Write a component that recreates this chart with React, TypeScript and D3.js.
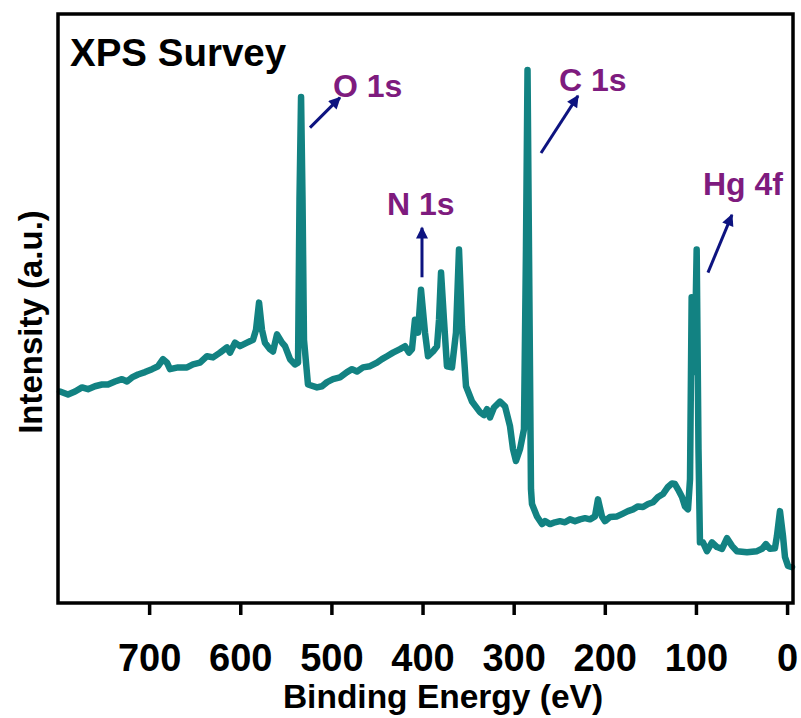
import React, { useEffect, useRef } from 'react';
import * as d3 from 'd3';

// binding energy (eV)
const energy = [
  797.8, 789.0, 781.3, 773.6, 767.1, 759.4, 751.7, 745.1, 737.4, 729.8, 724.3, 718.8, 712.2, 704.5,
  696.8, 690.2, 684.8, 680.4, 677.1, 668.3, 658.4, 651.9, 644.2, 636.5, 629.9, 622.2, 614.6, 611.3,
  605.8, 600.3, 592.6, 586.0, 582.7, 579.4, 576.2, 572.9, 567.4, 564.1, 559.7, 554.2, 550.9, 545.4,
  539.9, 536.6, 535.0, 533.3, 531.7, 530.1, 525.7, 515.8, 510.3, 504.8, 498.2, 490.6, 482.9, 477.4,
  471.9, 465.3, 457.6, 450.0, 444.5, 439.0, 432.4, 424.7, 419.2, 414.9, 411.6, 408.3, 405.0, 401.7,
  397.3, 394.0, 388.5, 384.1, 381.9, 379.7, 376.5, 373.2, 367.7, 363.3, 360.0, 356.7, 352.3, 345.7,
  337.0, 332.6, 329.3, 326.0, 321.6, 315.0, 309.5, 304.0, 300.7, 297.5, 293.1, 288.7, 286.5, 284.8,
  283.2, 281.0, 279.9, 274.4, 268.9, 265.6, 260.1, 254.7, 249.2, 243.7, 238.2, 232.7, 227.2, 221.7,
  216.3, 210.8, 207.5, 203.1, 199.8, 194.3, 186.6, 181.2, 174.6, 169.1, 163.6, 158.1, 152.6, 147.1,
  141.6, 136.2, 130.7, 126.3, 123.0, 119.7, 115.3, 112.0, 108.7, 106.5, 104.7, 101.6, 99.2, 97.2,
  95.6, 92.3, 87.9, 82.4, 76.9, 71.4, 65.9, 60.5, 55.0, 44.0, 33.0, 27.5, 23.2, 18.8, 13.3, 11.1,
  7.8, 4.5, 2.3, -1.0, -5.4,
];

// intensity (a.u.)
const intensity = [
  35.9, 35.4, 35.9, 36.6, 36.3, 36.8, 37.1, 37.1, 37.6, 38.0, 37.6, 38.3, 38.8, 39.2,
  39.7, 40.2, 41.4, 40.8, 39.7, 40.0, 40.0, 40.5, 40.8, 41.9, 41.7, 42.5, 43.4, 42.5,
  44.2, 43.6, 44.2, 44.7, 46.4, 51.0, 46.4, 44.2, 43.1, 42.7, 45.6, 44.2, 43.6, 41.4,
  40.5, 40.8, 68.5, 85.9, 68.5, 44.7, 37.1, 36.6, 36.8, 37.5, 38.0, 38.3, 39.2, 39.7,
  39.3, 40.0, 40.2, 40.8, 41.4, 41.9, 42.5, 43.1, 43.6, 42.5, 43.1, 48.1, 45.9, 53.2,
  45.9, 41.9, 42.7, 43.6, 48.1, 56.1, 48.1, 40.2, 40.0, 45.9, 60.0, 46.9, 36.8, 34.2,
  32.4, 31.9, 32.9, 31.5, 33.2, 34.2, 33.4, 30.0, 26.1, 24.1, 26.1, 29.5, 60.0, 90.5,
  60.0, 19.3, 16.8, 14.7, 13.4, 13.9, 13.4, 13.7, 13.9, 13.7, 14.2, 13.9, 14.2, 14.4,
  14.2, 14.7, 17.6, 14.7, 13.9, 14.6, 14.7, 15.1, 15.6, 15.9, 16.4, 16.3, 16.8, 17.1,
  18.0, 18.5, 19.7, 20.3, 20.2, 19.3, 18.0, 16.4, 15.9, 21.0, 51.9, 39.2, 60.0, 26.1,
  10.3, 10.3, 8.8, 10.3, 9.5, 9.2, 11.0, 9.7, 8.8, 8.6, 8.8, 9.2, 10.0, 9.2, 9.3, 11.4,
  15.6, 11.4, 7.8, 6.3, 6.1,
];

const xTicks = [700, 600, 500, 400, 300, 200, 100, 0];

// peak labels: text anchor and arrow tail -> head, in data units
const peakNames = ['O 1s', 'C 1s', 'N 1s', 'Hg 4f'];
const labelAt = [[498.2, 85.9], [250.3, 86.9], [439.0, 65.9], [92.3, 69.3]];
const arrowFrom = [[523.5, 80.7], [270.0, 76.4], [400.6, 55.3], [86.8, 56.1]];
const arrowTo = [[490.6, 85.8], [229.4, 86.1], [400.6, 63.7], [60.5, 65.9]];

const W = 801, H = 718;
const margin = { left: 58, right: 8, top: 14, bottom: 115 };

const App = () => {
  const ref = useRef<SVGSVGElement>(null);

  const draw = () => {
    const svg = d3.select(ref.current);
    svg.selectAll('*').remove();

    const font = '"Liberation Sans", Arial, sans-serif';
    const x = d3.scaleLinear().domain([800, -6.5]).range([margin.left, W - margin.right]);
    const y = d3.scaleLinear().domain([0, 100]).range([H - margin.bottom, margin.top]);

    const defs = svg.append('defs');
    defs
      .append('marker')
      .attr('id', 'head')
      .attr('viewBox', '0 0 10 10')
      .attr('refX', 9)
      .attr('refY', 5)
      .attr('markerWidth', 4.5)
      .attr('markerHeight', 4)
      .attr('markerUnits', 'strokeWidth')
      .attr('orient', 'auto')
      .append('path')
      .attr('d', 'M0,0L10,5L0,10Z')
      .attr('fill', '#0d1380');

    const pts = energy.map((e, i) => [e, intensity[i]]);

    svg
      .append('path')
      .datum(pts)
      .attr('fill', 'none')
      .attr('stroke', '#128282')
      .attr('stroke-width', 6.5)
      .attr('stroke-linejoin', 'round')
      .attr('stroke-linecap', 'round')
      .attr(
        'd',
        d3
          .line()
          .x((d) => x(d[0]))
          .y((d) => y(d[1]))
      );

    // frame
    svg
      .append('rect')
      .attr('x', margin.left)
      .attr('y', margin.top)
      .attr('width', W - margin.left - margin.right)
      .attr('height', H - margin.top - margin.bottom)
      .attr('fill', 'none')
      .attr('stroke', '#000')
      .attr('stroke-width', 3.5);

    const xAxis = svg
      .append('g')
      .attr('transform', `translate(0,${H - margin.bottom})`)
      .call(d3.axisBottom(x).tickValues(xTicks).tickSize(12).tickPadding(29).tickFormat(d3.format('d')));
    xAxis.select('.domain').remove();
    xAxis.selectAll('line').attr('stroke', '#000').attr('stroke-width', 3.5);
    xAxis
      .selectAll('text')
      .attr('fill', '#000')
      .style('font-family', font)
      .style('font-weight', 'bold')
      .style('font-size', '38px');

    svg
      .append('text')
      .attr('x', 443)
      .attr('y', 708)
      .attr('text-anchor', 'middle')
      .style('font-family', font)
      .style('font-weight', 'bold')
      .style('font-size', '33.5px')
      .text('Binding Energy (eV)');

    svg
      .append('text')
      .attr('transform', 'translate(42,322) rotate(-90)')
      .attr('text-anchor', 'middle')
      .style('font-family', font)
      .style('font-weight', 'bold')
      .style('font-size', '33px')
      .text('Intensity (a.u.)');

    svg
      .append('text')
      .attr('x', 70)
      .attr('y', 66)
      .style('font-family', font)
      .style('font-weight', 'bold')
      .style('font-size', '38.5px')
      .text('XPS Survey');

    peakNames.forEach((name, i) => {
      svg
        .append('line')
        .attr('x1', x(arrowFrom[i][0]))
        .attr('y1', y(arrowFrom[i][1]))
        .attr('x2', x(arrowTo[i][0]))
        .attr('y2', y(arrowTo[i][1]))
        .attr('stroke', '#0d1380')
        .attr('stroke-width', 3)
        .attr('marker-end', 'url(#head)');

      svg
        .append('text')
        .attr('x', x(labelAt[i][0]))
        .attr('y', y(labelAt[i][1]))
        .attr('fill', '#7e1b7e')
        .style('font-family', font)
        .style('font-weight', 'bold')
        .style('font-size', '32px')
        .text(name);
    });
  };

  // eslint-disable-next-line
  useEffect(() => draw(), []);

  return (
    <svg
      ref={ref}
      width={W}
      height={H}
      style={{ position: 'absolute', left: 0, top: 0, background: '#fff' }}></svg>
  );
};

export default App;
